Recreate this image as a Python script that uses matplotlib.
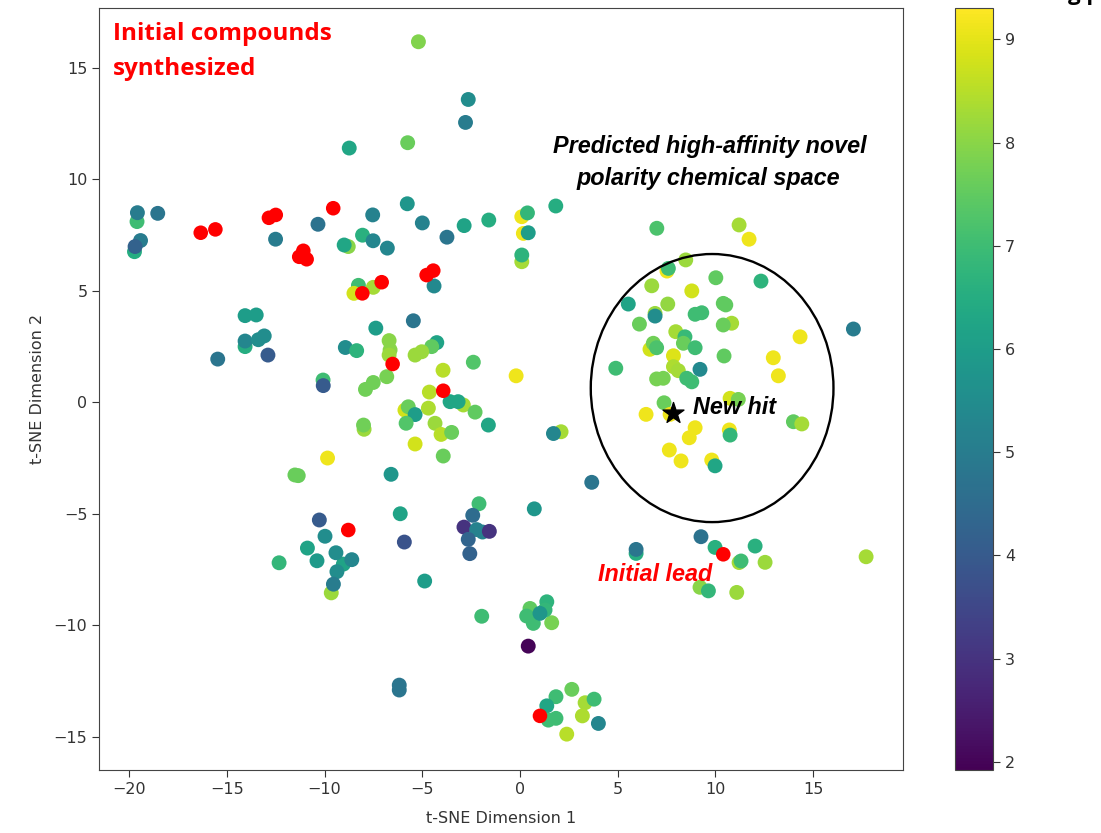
import matplotlib
matplotlib.use('Agg')
import matplotlib.pyplot as plt
from matplotlib.patches import Ellipse

# t-SNE coordinates and predicted affinity of the screened compounds
tsne_x = [
    -5.20, -2.65, -2.79, -5.75, -8.74,
    -19.60, -19.58, -18.54, -19.73, -19.42, -19.70,
    -12.51, -10.34, -7.54, -5.77, -5.00, -3.74, -2.86, -1.60,
    -8.06, -7.52, -8.79, -9.00, -6.79,
    -4.40, -8.27, -8.50, -7.51,
    0.09, 0.38, 0.17, 0.42, 0.09, 0.09, 1.83,
    -14.07, -13.50, -14.07, -14.07, -13.39, -13.09, -15.47, -12.90,
    -5.46, -7.38, -6.70, -6.65, -6.70, -4.26, -4.52, -8.94, -8.36,
    -5.37, -5.03, -2.39, -3.94, -10.08, -10.07, -7.51, -7.91, -6.82, -4.64, -0.20,
    -5.89, -5.72, -5.37, -4.69, -2.90, -3.58, -3.17, -2.30, -1.62,
    -5.83, -4.35, -4.04, -3.50, -7.98, -8.01, -5.37, -3.93, -9.85,
    -11.52, -11.35, -6.60, 2.10, 1.71,
    -2.10, -2.42, -2.87, -2.22, -1.92, -1.57, -2.65, -2.57,
    0.73, -6.13, -5.92, -4.88,
    -10.27, -9.98, -10.88, -10.39, -9.04, -9.42, -8.61, -9.37, -9.66, -9.55, -12.33,
    -1.96, 0.51, 1.37, 0.34, 0.68, 1.62, 1.28, 1.02, 0.42,
    -6.18, -6.18, 2.65, 1.84, 1.37, 1.45, 1.84, 3.33, 3.79, 3.19, 4.01, 2.39,
    3.67, 5.94, 5.94, 9.26, 9.98, 11.21, 11.31, 12.03, 12.54,
    9.21, 9.64, 11.09, 17.71,
    7.00, 11.21, 11.72, 7.52, 7.59, 8.48, 10.02, 12.33, 6.74, 8.79,
    5.54, 7.56, 10.40, 10.53, 6.91, 6.91, 8.96, 9.30, 6.11, 10.83, 10.40,
    7.97, 8.44, 8.36, 14.33, 17.06, 6.65, 6.82, 6.99, 8.96, 7.85, 10.44,
    12.96, 13.22, 4.90, 7.85, 8.10, 9.21, 6.99, 7.33, 8.53, 8.79,
    10.75, 11.17, 7.37, 6.45, 7.68, 13.99, 14.42, 8.96, 8.66, 10.71, 10.75,
    7.64, 8.24, 9.81, 9.98,
]
tsne_y = [
    16.18, 13.59, 12.56, 11.65, 11.41,
    8.11, 8.51, 8.48, 6.76, 7.26, 6.99,
    7.32, 7.99, 8.41, 8.91, 8.05, 7.41, 7.93, 8.18,
    7.50, 7.25, 6.99, 7.06, 6.92,
    5.22, 5.25, 4.89, 5.16,
    8.33, 8.50, 7.58, 7.61, 6.31, 6.61, 8.81,
    3.89, 3.92, 2.50, 2.75, 2.81, 2.98, 1.94, 2.12,
    3.66, 3.33, 2.77, 2.35, 2.12, 2.68, 2.50, 2.46, 2.32,
    2.12, 2.27, 1.80, 1.44, 1.00, 0.75, 0.89, 0.58, 1.15, 0.46, 1.19,
    -0.35, -0.20, -0.55, -0.26, -0.12, 0.03, 0.03, -0.44, -1.02,
    -0.94, -0.94, -1.44, -1.35, -1.21, -1.02, -1.87, -2.41, -2.50,
    -3.26, -3.29, -3.23, -1.32, -1.40,
    -4.55, -5.07, -5.60, -5.71, -5.82, -5.79, -6.15, -6.79,
    -4.78, -5.00, -6.27, -8.02,
    -5.28, -6.01, -6.54, -7.11, -7.26, -6.75, -7.06, -7.60, -8.55, -8.16, -7.20,
    -9.60, -9.25, -8.95, -9.59, -9.92, -9.89, -9.32, -9.47, -10.94,
    -12.69, -12.91, -12.88, -13.21, -13.62, -14.26, -14.18, -13.48, -13.32, -14.07, -14.41, -14.89,
    -3.59, -6.78, -6.60, -6.03, -6.51, -7.19, -7.12, -6.45, -7.18,
    -8.30, -8.46, -8.53, -6.93,
    7.81, 7.96, 7.32, 5.89, 6.01, 6.39, 5.59, 5.44, 5.23, 5.00,
    4.41, 4.41, 4.44, 4.37, 3.99, 3.87, 3.95, 4.02, 3.51, 3.55, 3.47,
    3.17, 2.94, 2.65, 2.94, 3.29, 2.38, 2.65, 2.45, 2.45, 2.09, 2.08,
    2.00, 1.19, 1.53, 1.60, 1.42, 1.48, 1.05, 1.08, 1.08, 0.92,
    0.18, 0.13, -0.02, -0.54, -0.54, -0.87, -0.97, -1.14, -1.59, -1.24, -1.47,
    -2.14, -2.63, -2.59, -2.85,
]
affinity = [
    7.9, 5.5, 5.0, 7.6, 6.3,
    7.0, 5.0, 4.8, 6.5, 5.0, 4.2,
    5.0, 4.7, 5.2, 5.8, 5.2, 4.8, 6.2, 6.5,
    6.6, 5.3, 8.0, 6.3, 5.3,
    5.4, 7.0, 8.8, 8.3,
    9.1, 6.8, 9.1, 6.0, 8.3, 6.7, 6.5,
    6.0, 6.0, 6.5, 5.3, 5.5, 5.5, 4.8, 4.0,
    4.8, 6.0, 8.0, 8.0, 8.2, 6.2, 7.5, 5.5, 6.7,
    8.2, 8.2, 7.3, 8.5, 7.0, 4.0, 7.7, 7.7, 7.8, 8.5, 9.1,
    8.8, 7.6, 6.0, 8.4, 8.3, 6.3, 6.3, 7.5, 6.3,
    7.3, 8.2, 8.5, 7.6, 8.2, 7.7, 8.8, 7.6, 9.1,
    7.6, 7.6, 5.8, 8.3, 5.3,
    7.0, 4.5, 3.0, 5.2, 5.2, 3.0, 4.3, 4.2,
    5.8, 6.2, 3.8, 6.0,
    4.0, 5.5, 6.2, 5.9, 6.2, 5.5, 5.3, 5.5, 8.2, 5.0, 6.8,
    7.0, 7.5, 6.7, 7.0, 7.0, 7.8, 6.8, 5.8, 2.0,
    4.8, 4.8, 7.6, 7.0, 6.3, 7.0, 7.0, 8.3, 7.0, 8.4, 5.3, 8.5,
    4.8, 6.5, 4.8, 4.7, 6.6, 8.3, 7.0, 6.6, 8.2,
    8.0, 6.8, 8.2, 8.3,
    7.2, 8.3, 9.1, 9.1, 7.0, 8.2, 7.5, 6.7, 8.2, 8.8,
    6.2, 8.1, 7.5, 7.5, 8.2, 5.5, 7.0, 7.0, 7.6, 8.3, 7.6,
    8.3, 6.9, 7.6, 9.1, 5.0, 8.8, 7.7, 7.2, 7.0, 8.9, 7.5,
    9.1, 9.1, 7.0, 8.4, 8.3, 5.4, 7.8, 7.8, 7.0, 7.0,
    8.8, 7.8, 7.6, 9.1, 9.1, 7.5, 8.3, 9.1, 9.1, 9.1, 6.8,
    9.1, 9.1, 9.1, 6.3,
]

# initial compounds that were synthesized (red)
init_x = [-16.34, -15.59, -12.85, -12.50, -9.56, -11.30, -11.09, -10.92,
          -4.78, -4.44, -7.08, -8.07, -6.52, -3.93, -8.79, 1.02, 10.40]
init_y = [7.61, 7.76, 8.28, 8.41, 8.71, 6.53, 6.80, 6.42,
          5.71, 5.91, 5.39, 4.89, 1.72, 0.52, -5.73, -14.07, -6.82]

new_hit = (7.81, -0.49)
region_center = (9.83, 0.64)
region_size = (12.42, 12.03)

fig = plt.figure(figsize=(11.01, 8.33), dpi=100)
ax = fig.add_axes([0.0902, 0.0756, 0.730, 0.9144])
cax = fig.add_axes([0.8674, 0.0756, 0.0345, 0.9144])

sc = ax.scatter(tsne_x, tsne_y, c=affinity, cmap='viridis', vmin=1.92, vmax=9.30,
                s=115, edgecolors='none', zorder=2)
ax.scatter(init_x, init_y, c='red', s=110, edgecolors='none', zorder=3)
ax.add_patch(Ellipse(region_center, region_size[0], region_size[1],
                     fill=False, edgecolor='black', linewidth=1.7, zorder=4))
ax.scatter([new_hit[0]], [new_hit[1]], marker='*', c='black', s=250, zorder=5)

ax.set_xlim(-21.53, 19.6)
ax.set_ylim(-16.5, 17.68)
ax.set_xticks([-20, -15, -10, -5, 0, 5, 10, 15])
ax.set_yticks([-15, -10, -5, 0, 5, 10, 15])
ax.tick_params(labelsize=11.5, colors='#333333', length=5)
for sp in ax.spines.values():
    sp.set_color('#444444')
ax.set_xlabel('t-SNE Dimension 1', fontsize=11.5, color='#333333', labelpad=10)
ax.set_ylabel('t-SNE Dimension 2', fontsize=11.5, color='#333333', labelpad=6)

cb = fig.colorbar(sc, cax=cax, ticks=range(2, 10))
cb.ax.tick_params(labelsize=11.5, colors='#333333', length=5)
cb.outline.set_edgecolor('#444444')

red_font = dict(color='red', fontsize=17.5, fontweight='bold', family='Open Sans')
ital_font = dict(fontsize=16.8, fontweight='bold', fontstyle='italic',
                 family='Liberation Sans')

ax.text(0.017, 0.9584, 'Initial compounds', transform=ax.transAxes,
        ha='left', va='baseline', **red_font)
ax.text(0.017, 0.9125, 'synthesized', transform=ax.transAxes,
        ha='left', va='baseline', **red_font)
ax.text(0.7594, 0.8096, 'Predicted high-affinity novel', transform=ax.transAxes,
        ha='center', va='baseline', color='black', **ital_font)
ax.text(0.7582, 0.768, 'polarity chemical space', transform=ax.transAxes,
        ha='center', va='baseline', color='black', **ital_font)
ax.text(0.7387, 0.4674, 'New hit', transform=ax.transAxes, ha='left', va='baseline',
        color='black', **ital_font)
ax.text(0.621, 0.2485, 'Initial lead', transform=ax.transAxes, ha='left', va='baseline',
        color='red', **ital_font)

# colorbar title, cut off by the top edge of the picture as in the source
fig.text(0.905, 1.0, 'Binding pKi', ha='left', va='baseline', fontsize=16,
         fontweight='bold', family='Open Sans')

fig.savefig('out.png', dpi=100)
